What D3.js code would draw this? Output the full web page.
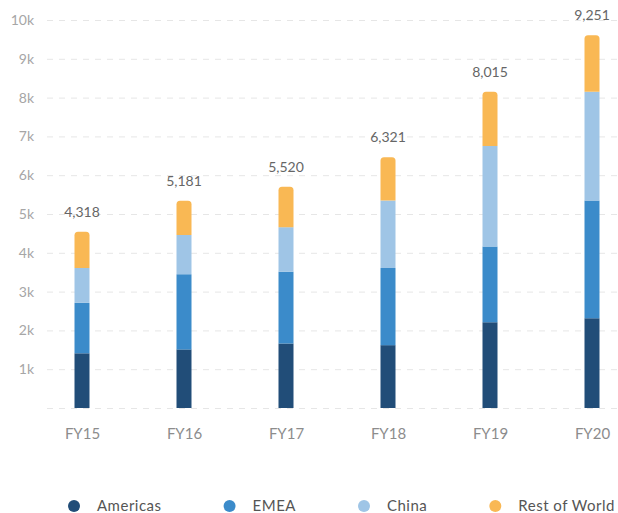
<!DOCTYPE html>
<html>
<head>
<meta charset="utf-8">
<style>
  body { margin: 0; background: #fff; }
  .chart { width: 618px; height: 513px; }
  text { font-family: Lato, "Open Sans", sans-serif; }
</style>
</head>
<body>
<div class="chart"></div>
<script src="https://d3js.org/d3.v7.min.js"></script>
<script>
  // data
  const years = ['FY15', 'FY16', 'FY17', 'FY18', 'FY19', 'FY20']
  const regions = ['Americas', 'EMEA', 'China', 'Rest of World']
  const americas = [1410, 1510, 1660, 1620, 2210, 2310]
  const emea = [1300, 1940, 1850, 1990, 1950, 3040]
  const china = [900, 1010, 1150, 1740, 2590, 2800]
  const rest = [930, 880, 1040, 1110, 1400, 1460]
  const totals = [4318, 5181, 5520, 6321, 8015, 9251]
  const yTicks = [0, 1000, 2000, 3000, 4000, 5000, 6000, 7000, 8000, 9000, 10000]
  const colors = ['#214d78', '#3b8bca', '#9fc5e6', '#f9b854']

  const width = 618, height = 513

  const svg = d3.select('.chart')
                .append('svg')
                .attr('width', width)
                .attr('height', height)

  // 組成堆疊用的資料表
  const table = years.map((y, i) => ({
    year: y,
    'Americas': americas[i],
    'EMEA': emea[i],
    'China': china[i],
    'Rest of World': rest[i]
  }))
  const stacked = d3.stack().keys(regions)(table)

  const xScale = d3.scalePoint()
                  .domain(years)
                  .range([82, 592])

  const yScale = d3.scaleLinear()
                  .domain([0, 10000])
                  .range([408, 20])

  const barW = 15

  // 格線 + y 軸文字
  const yAxis = d3.axisLeft(yScale)
                  .tickValues(yTicks)
                  .tickSize(-(width - 47))
                  .tickPadding(13)
                  .tickFormat(d => d === 0 ? '' : (d / 1000) + 'k')

  const yAxisGroup = svg.append('g')
                        .attr('transform', 'translate(47,0)')
                        .call(yAxis)
  yAxisGroup.select('.domain').remove()
  yAxisGroup.selectAll('line')
            .attr('stroke', '#e6e6e6')
            .attr('stroke-dasharray', '6,6')
  yAxisGroup.selectAll('text')
            .attr('fill', '#a6a6a6')
            .attr('font-size', 14)

  // x 軸文字
  const xAxis = d3.axisBottom(xScale).tickSize(0).tickPadding(0)
  const xAxisGroup = svg.append('g')
                        .attr('transform', 'translate(0,428)')
                        .call(xAxis)
  xAxisGroup.select('.domain').remove()
  xAxisGroup.selectAll('text')
            .attr('fill', '#8c8c8c')
            .attr('font-size', 15)

  // 圓角只放在最上面那段
  function roundTop(x, y0, y1, w, r) {
    return `M${x},${y1} V${y0 + r} Q${x},${y0} ${x + r},${y0} H${x + w - r} Q${x + w},${y0} ${x + w},${y0 + r} V${y1} Z`
  }

  stacked.forEach((layer, li) => {
    svg.append('g')
      .selectAll('path')
      .data(layer)
      .join('path')
      .attr('fill', colors[li])
      .attr('d', d => {
        const x = xScale(d.data.year) - barW / 2
        const y0 = yScale(d[1]), y1 = yScale(d[0])
        if (li === regions.length - 1) return roundTop(x, y0, y1, barW, 3.5)
        return `M${x},${y1} V${y0} H${x + barW} V${y1} Z`
      })
  })

  // 總數標籤
  const topLayer = stacked[stacked.length - 1]
  svg.append('g')
    .selectAll('text')
    .data(topLayer)
    .join('text')
    .attr('x', d => xScale(d.data.year))
    .attr('y', d => yScale(d[1]) - 15)
    .attr('text-anchor', 'middle')
    .attr('fill', '#666')
    .attr('font-size', 14)
    .text((d, i) => d3.format(',')(totals[i]))

  // 圖例
  const legend = svg.append('g').attr('transform', 'translate(0,506)')
  let lx = 74
  regions.forEach((name, i) => {
    legend.append('circle')
          .attr('cx', lx)
          .attr('cy', 0)
          .attr('r', 6)
          .attr('fill', colors[i])
    const t = legend.append('text')
          .attr('x', lx + 23)
          .attr('y', 5)
          .attr('fill', '#555')
          .attr('font-size', 15)
          .attr('letter-spacing', 0.5)
          .text(name)
    lx = lx + 23 + t.node().getComputedTextLength() + 68
  })
</script>
</body>
</html>
